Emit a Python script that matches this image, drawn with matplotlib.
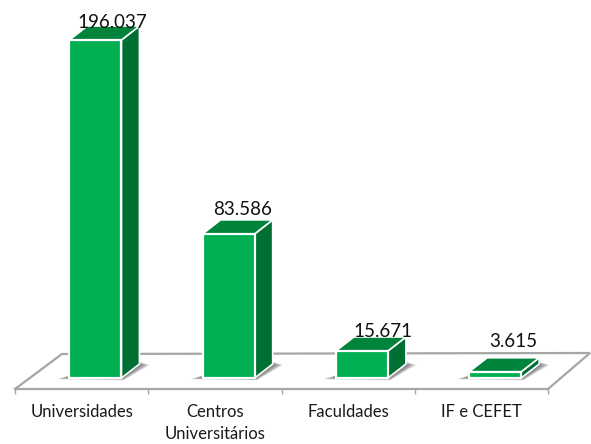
import matplotlib
matplotlib.use("Agg")
import matplotlib.pyplot as plt
from matplotlib.patches import Polygon

plt.rcParams["font.family"] = ["Lato", "DejaVu Sans"]

categories = ["Universidades", "Centros\nUniversitários", "Faculdades", "IF e CEFET"]
values = [196037, 83586, 15671, 3615]
value_labels = ["196.037", "83.586", "15.671", "3.615"]

# label offsets from the bar top, in pixels (they were moved by hand in the original)
label_dx = [17, 14, 21, 18]
label_dy = [9, 16, 11, 22]

W, H = 591, 444
px_x = 133.25          # pixels per category
px_y = 338 / 196037    # pixels per unit

fig = plt.figure(figsize=(W / 100, H / 100), dpi=100)
ax = fig.add_axes([15 / W, (H - 389) / H, 533 / W, 389 / H])
ax.set_xlim(-0.5, 3.5)
ax.set_ylim(-11 / px_y, 378 / px_y)


def dx(p):
    return p / px_x


def dy(p):
    return p / px_y


grey = "#a6a6a6"
floor_y = dy(-11)

# floor, back and side edges
back_left = (-0.5 + dx(47), floor_y + dy(35))
back_right = (3.5 + dx(42), floor_y + dy(36))
ax.plot([-0.5, back_left[0], back_right[0], 3.5], [floor_y, back_left[1], back_right[1], floor_y],
        color=grey, lw=1.6, clip_on=False, zorder=1, solid_joinstyle="miter")

bar_w = dx(52)
depth_x = dx(18)
depth_y = dy(14)
for i, v in enumerate(values):
    x0 = i + dx(14.4) - bar_w / 2 - dx(0.6)
    x1 = x0 + bar_w

    # soft shadow on the floor, darker towards the bar
    for k in range(8):
        g = dx(13 - k * 1.5)
        t = dy(2.4 - k * 0.3)
        ax.add_patch(Polygon([(x0 - g, -t * 0.5), (x1 + dx(2), -t),
                              (x1 + depth_x + g * 0.8, depth_y - dy(1)),
                              (x1 + depth_x, depth_y + t), (x0 + dx(4), dy(4))],
                             closed=True, fc="#555555", ec="none", alpha=0.13, zorder=2))

    ax.add_patch(Polygon([(x1, 0), (x1 + depth_x, depth_y), (x1 + depth_x, v + depth_y), (x1, v)],
                         closed=True, fc="#006f34", ec="white", lw=1.2, zorder=3, joinstyle="round"))
    ax.add_patch(Polygon([(x0, v), (x1, v), (x1 + depth_x, v + depth_y), (x0 + depth_x, v + depth_y)],
                         closed=True, fc="#00843c", ec="white", lw=1.2, zorder=3, joinstyle="round"))
    ax.bar(x0, v, width=bar_w, align="edge", color="#00b050", edgecolor="white", linewidth=1.6, zorder=4)

    ax.annotate(value_labels[i], xy=((x0 + x1) / 2, v), xytext=(label_dx[i] * 0.72, label_dy[i] * 0.72),
                textcoords="offset points", ha="center", va="bottom", fontsize=13.5,
                color="#111111", zorder=6, annotation_clip=False)

for s in ["top", "left", "right"]:
    ax.spines[s].set_visible(False)
ax.spines["bottom"].set_color(grey)
ax.spines["bottom"].set_linewidth(1.6)
ax.set_yticks([])

ax.set_xticks(range(len(categories)))
ax.set_xticklabels(categories, fontsize=12, color="#1a1a1a", linespacing=1.45)
ax.tick_params(axis="x", which="major", length=0, pad=11)
ax.set_xticks([-0.5, 0.5, 1.5, 2.5, 3.5], minor=True)
ax.tick_params(axis="x", which="minor", length=3.5, width=1, color=grey)

fig.savefig("out.png", dpi=100)
